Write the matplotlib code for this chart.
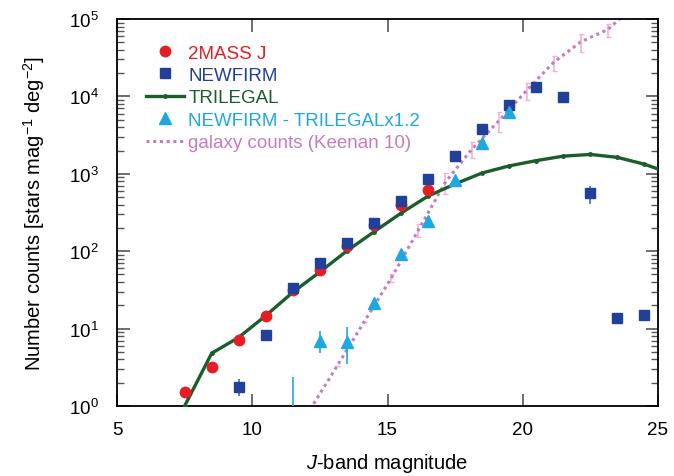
import numpy as np
import matplotlib
matplotlib.use("Agg")
import matplotlib.pyplot as plt
from matplotlib.lines import Line2D
from matplotlib.ticker import LogLocator, NullFormatter, FixedLocator

plt.rcParams['font.family'] = ['Liberation Sans', 'DejaVu Sans']
plt.rcParams['mathtext.fontset'] = 'custom'
plt.rcParams['mathtext.rm'] = 'Liberation Sans'
plt.rcParams['mathtext.it'] = 'Liberation Sans:italic'

# 2MASS J counts
mass_x = [7.5, 8.5, 9.5, 10.5, 11.5, 12.5, 13.5, 14.5, 15.5, 16.5]
mass_y = [1.53, 3.2, 7.2, 14.5, 32, 58, 118, 218, 390, 620]

# NEWFIRM counts
nf_x = [9.5, 10.5, 11.5, 12.5, 13.5, 14.5, 15.5, 16.5, 17.5, 18.5, 19.5, 20.5, 21.5, 22.5, 23.5, 24.5]
nf_y = [1.75, 8.3, 33, 71, 126, 229, 445, 850, 1700, 3760, 7780, 13100, 9800, 560, 13.6, 14.9]
nf_lo = [0.4, 0.6, 1.5, 2, 4, 6, 10, 15, 30, 60, 100, 200, 200, 150, 1.3, 1.4]
nf_hi = [0.45, 0.6, 1.5, 2, 4, 6, 10, 15, 30, 60, 100, 200, 200, 130, 1.3, 1.4]

# TRILEGAL model
tri_x = [7.5, 8.5, 9.5, 10.5, 11.5, 12.5, 13.5, 14.5, 15.5, 16.5, 17.5, 18.5, 19.5,
         20.5, 21.5, 22.5, 23.5, 24.5, 25.5]
tri_y = [1.0, 4.8, 7.7, 14.7, 29.5, 54, 101, 178, 310, 515, 740, 1025, 1265,
         1480, 1690, 1780, 1630, 1330, 1000]

# NEWFIRM - TRILEGAL x1.2
diff_x = [11.5, 12.5, 13.5, 14.5, 15.5, 16.5, 17.5, 18.5, 19.5]
diff_y = [0.5, 6.9, 6.8, 21.4, 93, 247, 830, 2500, 6200]
diff_lo = [0.4, 2.1, 3.3, 2.5, 8, 20, 40, 100, 200]
diff_hi = [1.85, 2.3, 3.6, 2.5, 8, 20, 40, 100, 200]

# galaxy counts (Keenan 10)
gal_x = [12.14, 13.14, 14.14, 15.14, 16.14, 17.14, 18.13, 19.13, 20.15, 21.14, 22.14, 23.14, 24.14]
gal_y = [0.9, 3.3, 12.3, 45, 187, 780, 2100, 4900, 12000, 27500, 50500, 73000, 150000]
gal_err = [0.0, 0.0, 0.0, 5, 35, 230, 500, 1400, 3000, 6000, 13000, 14000, 0]

red = '#e31e24'
blue = '#21409a'
green = '#1b5e2b'
cyan = '#1fa8e0'
pink = '#c67bc1'
pink_err = '#f2b3d3'

fig = plt.figure(figsize=(6.74, 4.77), dpi=100)
ax = fig.add_axes([117 / 674, 1 - 407 / 477, 541 / 674, 387 / 477])

ax.errorbar(gal_x, gal_y, yerr=gal_err, fmt='none', ecolor=pink_err, elinewidth=1.2,
            capsize=1.8, capthick=1.0, zorder=1)
ax.plot(gal_x, gal_y, ls=(0, (1, 1.2)), color=pink, lw=2.2, zorder=2)

ax.plot(tri_x, tri_y, '-', color=green, lw=2.4, marker='o', ms=2.5, zorder=3)

ax.plot(mass_x, mass_y, 'o', color=red, ms=7.5, zorder=4)
ax.errorbar(nf_x, nf_y, yerr=[nf_lo, nf_hi], fmt='s', color=blue, ms=6.5, mec=blue,
            elinewidth=1.2, ecolor='#4a63b0', capsize=0, zorder=5)
ax.errorbar(diff_x, diff_y, yerr=[diff_lo, diff_hi], fmt='^', color=cyan, ms=8.5,
            mec=cyan, elinewidth=1.2, capsize=0, zorder=5)

ax.set_yscale('log')
ax.set_xlim(5, 25)
ax.set_ylim(1, 1e5)

ax.xaxis.set_major_locator(FixedLocator([5, 10, 15, 20, 25]))
ax.yaxis.set_major_locator(LogLocator(base=10, numticks=10))
ax.yaxis.set_minor_locator(LogLocator(base=10, subs=np.arange(2, 10), numticks=10))
ax.yaxis.set_minor_formatter(NullFormatter())
ax.tick_params(axis='both', which='major', direction='in', top=True, right=True,
               length=9, width=1.2, color='#555555', labelsize=13.5)
ax.tick_params(axis='x', which='major', pad=11)
ax.tick_params(axis='y', which='major', pad=13)
ax.tick_params(axis='y', which='minor', direction='in', right=True, left=True,
               length=5, width=1.0, color='#555555')
ax.tick_params(axis='x', which='minor', bottom=False, top=False)
for s in ax.spines.values():
    s.set_linewidth(1.3)

ax.set_xlabel('$\\it{J}$-band magnitude', fontsize=14.5, labelpad=9)
ax.set_ylabel('Number counts [stars mag$^{-1}$ deg$^{-2}$]', fontsize=14.5, labelpad=16)

labels = ['2MASS J', 'NEWFIRM', 'TRILEGAL', 'NEWFIRM - TRILEGALx1.2', 'galaxy counts (Keenan 10)']
colors = [red, blue, green, cyan, pink]
handles = [
    Line2D([], [], ls='none', marker='o', color=red, ms=7.5),
    Line2D([], [], ls='none', marker='s', color=blue, ms=6.5),
    Line2D([], [], ls='-', color=green, lw=2.4, marker='o', ms=2.5, markevery=[1]),
    Line2D([], [], ls='none', marker='^', color=cyan, ms=8.5),
    Line2D([], [], ls=(0, (1, 1.2)), color=pink, lw=2.2),
]
leg = ax.legend(handles, labels, loc='upper left', frameon=False,
                fontsize=13.5, handlelength=2.0, handletextpad=0.25, labelspacing=0.28,
                borderaxespad=0, borderpad=0, bbox_to_anchor=(0.054, 0.934))
for t, c in zip(leg.get_texts(), colors):
    t.set_color(c)

fig.savefig('out.png', dpi=100)
